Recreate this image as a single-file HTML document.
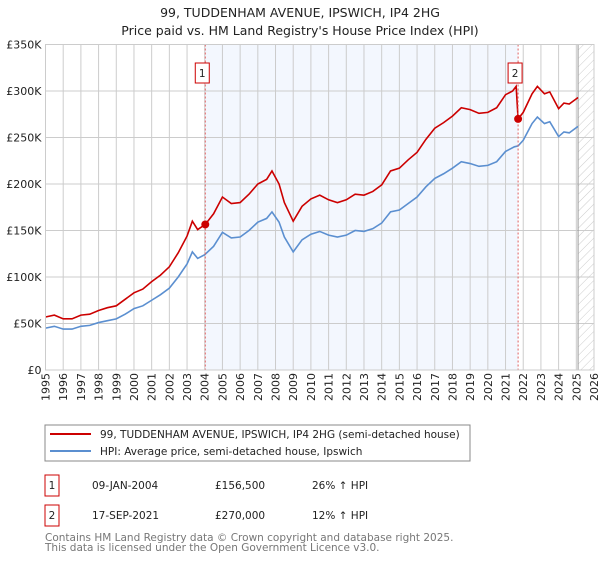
<!DOCTYPE html>
<html><head><meta charset="utf-8"><style>
body{margin:0;background:#fff;font-family:"DejaVu Sans","Liberation Sans",sans-serif;}
svg text{font-family:"DejaVu Sans","Liberation Sans",sans-serif;}
</style></head><body>
<svg id="c" width="600" height="560" xmlns="http://www.w3.org/2000/svg">
<defs><pattern id="hatch" width="6" height="6" patternUnits="userSpaceOnUse" patternTransform="rotate(45)"><line x1="0" y1="0" x2="0" y2="6" stroke="#ccc" stroke-width="1"/></pattern></defs>
<text x="300" y="17" text-anchor="middle" font-size="12.5" fill="#222">99, TUDDENHAM AVENUE, IPSWICH, IP4 2HG</text>
<text x="300" y="35" text-anchor="middle" font-size="12.5" fill="#222">Price paid vs. HM Land Registry's House Price Index (HPI)</text>
<g id="plot"></g>
<rect x="45" y="425" width="425" height="36" fill="none" stroke="#888"/>
<line x1="50" y1="434" x2="91" y2="434" stroke="#cc0000" stroke-width="2"/>
<text x="100" y="438" font-size="10.5" fill="#222">99, TUDDENHAM AVENUE, IPSWICH, IP4 2HG (semi-detached house)</text>
<line x1="50" y1="451" x2="91" y2="451" stroke="#5b8fd0" stroke-width="2"/>
<text x="100" y="455" font-size="10.5" fill="#222">HPI: Average price, semi-detached house, Ipswich</text>
<g>
<rect x="45" y="475" width="14" height="21" fill="#fff" stroke="#cc0000"/>
<text x="52" y="489" text-anchor="middle" font-size="10.5" fill="#222">1</text>
<text x="92" y="489" font-size="10.5" fill="#222">09-JAN-2004</text>
<text x="215" y="489" font-size="10.5" fill="#222">£156,500</text>
<text x="312" y="489" font-size="10.5" fill="#222">26% ↑ HPI</text>
</g>
<g>
<rect x="45" y="505" width="14" height="21" fill="#fff" stroke="#cc0000"/>
<text x="52" y="519" text-anchor="middle" font-size="10.5" fill="#222">2</text>
<text x="92" y="519" font-size="10.5" fill="#222">17-SEP-2021</text>
<text x="215" y="519" font-size="10.5" fill="#222">£270,000</text>
<text x="312" y="519" font-size="10.5" fill="#222">12% ↑ HPI</text>
</g>
<text x="45" y="541" font-size="10.5" fill="#777">Contains HM Land Registry data © Crown copyright and database right 2025.</text>
<text x="45" y="551" font-size="10.5" fill="#777">This data is licensed under the Open Government Licence v3.0.</text>
</svg>
<script>
const hpiYears=[1995,1995.5,1996,1996.5,1997,1997.5,1998,1998.5,1999,1999.5,2000,2000.5,2001,2001.5,2002,2002.5,2003,2003.3,2003.6,2004,2004.5,2005,2005.5,2006,2006.5,2007,2007.5,2007.8,2008.2,2008.5,2009,2009.5,2010,2010.5,2011,2011.5,2012,2012.5,2013,2013.5,2014,2014.5,2015,2015.5,2016,2016.5,2017,2017.5,2018,2018.5,2019,2019.5,2020,2020.5,2021,2021.5,2021.71,2022,2022.5,2022.8,2023.2,2023.5,2024,2024.3,2024.6,2025.1];
const hpiValues=[45,47,44,44,47,48,51,53,55,60,66,69,75,81,88,100,114,127,120,124,133,148,142,143,150,159,163,170,159,143,127,140,146,149,145,143,145,150,149,152,158,170,172,179,186,197,206,211,217,224,222,219,220,224,235,240,241,247,265,272,265,267,251,256,255,262];
const priceYears=[1995,1995.5,1996,1996.5,1997,1997.5,1998,1998.5,1999,1999.5,2000,2000.5,2001,2001.5,2002,2002.5,2003,2003.3,2003.6,2004.03,2004.5,2005,2005.5,2006,2006.5,2007,2007.5,2007.8,2008.2,2008.5,2009,2009.5,2010,2010.5,2011,2011.5,2012,2012.5,2013,2013.5,2014,2014.5,2015,2015.5,2016,2016.5,2017,2017.5,2018,2018.5,2019,2019.5,2020,2020.5,2021,2021.4,2021.6,2021.71,2022,2022.5,2022.8,2023.2,2023.5,2024,2024.3,2024.6,2025.1];
const priceValues=[57,59,55,55,59,60,64,67,69,76,83,87,95,102,111,126,144,160,151,156.5,168,186,179,180,189,200,205,214,200,180,160,176,184,188,183,180,183,189,188,192,199,214,217,226,234,248,260,266,273,282,280,276,277,282,296,300,305,270,277,297,305,297,299,281,287,286,293];
const saleYears=[2004.03,2021.71];
const saleValues=[156.5,270];
const saleLabels=["1","2"];
const yTicks=[0,50,100,150,200,250,300,350];
const yTickLabels=["£0","£50K","£100K","£150K","£200K","£250K","£300K","£350K"];
const xTicks=[1995,1996,1997,1998,1999,2000,2001,2002,2003,2004,2005,2006,2007,2008,2009,2010,2011,2012,2013,2014,2015,2016,2017,2018,2019,2020,2021,2022,2023,2024,2025,2026];
const L=45.5,R=594,T=44.5,B=370,x0=1995,x1=2026,yMax=350,dataEnd=2025.1;
const X=y=>L+(y-x0)/(x1-x0)*(R-L);
const Y=v=>B-v/yMax*(B-T);
const ns="http://www.w3.org/2000/svg";
const g=document.getElementById('plot');
function mk(t,a,p){const e=document.createElementNS(ns,t);for(const k in a)e.setAttribute(k,a[k]);(p||g).appendChild(e);return e;}
const sh=mk('rect',{x:X(saleYears[0]),y:T,width:X(saleYears[1])-X(saleYears[0]),height:B-T,fill:'#eef3fd',opacity:0.7});


const ht=mk('rect',{x:X(dataEnd),y:T,width:R-X(dataEnd),height:B-T,fill:'url(#hatch)'});


xTicks.forEach(t=>{const l=mk('line',{x1:X(t),x2:X(t),y1:T,y2:B,stroke:'#ccc','stroke-width':1});


const tx=mk('text',{x:0,y:0,'text-anchor':'end','font-size':11,fill:'#222',transform:'translate('+(X(t)+4)+','+(B+3)+') rotate(-90)'});tx.textContent=t;

});
yTicks.forEach((t,i)=>{const l=mk('line',{x1:L,x2:R,y1:Y(t),y2:Y(t),stroke:'#ccc','stroke-width':1});


const tx=mk('text',{x:L-4,y:Y(t)+4,'text-anchor':'end','font-size':11,fill:'#222'});tx.textContent=yTickLabels[i];

});
const ed=mk('line',{x1:X(dataEnd),x2:X(dataEnd),y1:T,y2:B,stroke:'#999','stroke-width':1});


const hp=mk('polyline',{points:hpiYears.map((y,i)=>X(y)+','+Y(hpiValues[i])).join(' '),fill:'none',stroke:'#5b8fd0','stroke-width':1.6});


const pp=mk('polyline',{points:priceYears.map((y,i)=>X(y)+','+Y(priceValues[i])).join(' '),fill:'none',stroke:'#cc0000','stroke-width':1.6});


saleYears.forEach((s,i)=>{
const v=mk('line',{x1:X(s),x2:X(s),y1:T,y2:B,stroke:'#e06060','stroke-dasharray':'2,2','stroke-width':1});


const d=mk('circle',{cx:X(s),cy:Y(saleValues[i]),r:4,fill:'#cc0000'});


const b=mk('rect',{x:X(s)-10,y:63,width:14,height:20,fill:'#fff',stroke:'#cc0000'});


const t=mk('text',{x:X(s)-3,y:77,'text-anchor':'middle','font-size':10.5,fill:'#222'});t.textContent=saleLabels[i];

});
const fr=mk('rect',{x:L,y:T,width:R-L,height:B-T,fill:'none',stroke:'#ccc'});


</script>
</body></html>
